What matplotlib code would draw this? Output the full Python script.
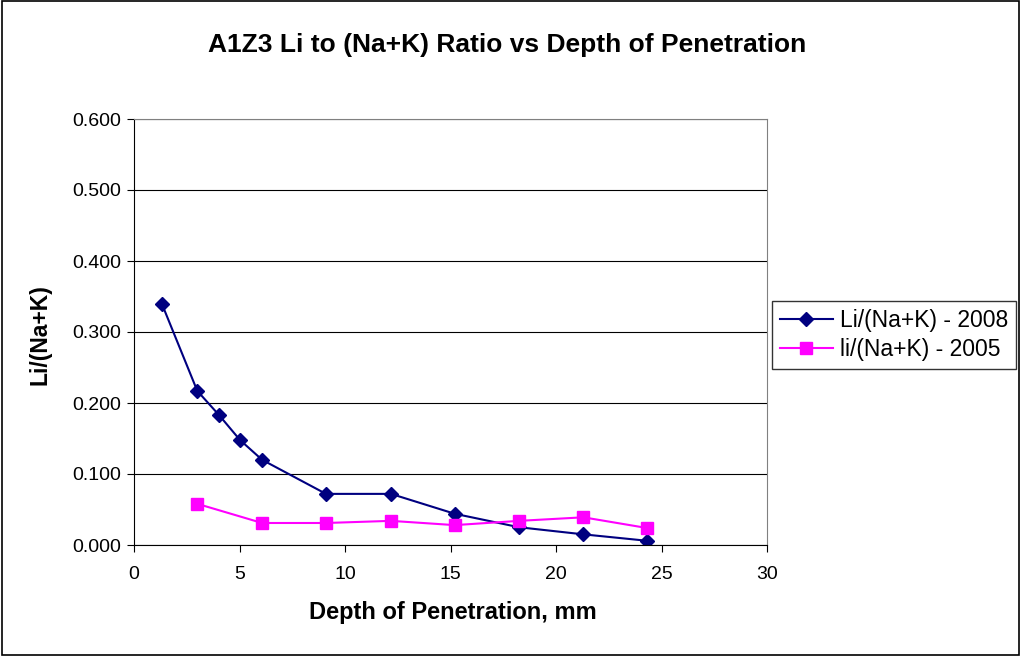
import matplotlib
matplotlib.use("Agg")
import matplotlib.pyplot as plt
from matplotlib.patches import Rectangle

plt.rcParams['font.family'] = ['Liberation Sans', 'DejaVu Sans']

depth_2008 = [1.33, 3.0, 4.03, 5.02, 6.07, 9.1, 12.18, 15.2, 18.25, 21.3, 24.3]
ratio_2008 = [0.339, 0.217, 0.183, 0.148, 0.120, 0.072, 0.072, 0.044, 0.025, 0.015, 0.006]
depth_2005 = [3.0, 6.07, 9.1, 12.18, 15.2, 18.25, 21.3, 24.3]
ratio_2005 = [0.058, 0.031, 0.031, 0.034, 0.028, 0.034, 0.039, 0.024]
y_ticks = [0.0, 0.1, 0.2, 0.3, 0.4, 0.5, 0.6]
x_ticks = [0, 5, 10, 15, 20, 25, 30]

fig = plt.figure(figsize=(10.21, 6.56), dpi=100)
ax = fig.add_axes([134/1021, 1-545/656, (767-134)/1021, (545-119)/656])

l1, = ax.plot(depth_2008, ratio_2008, color='#000080', marker='D', markersize=7,
              linewidth=1.5, label='Li/(Na+K) - 2008')
l2, = ax.plot(depth_2005, ratio_2005, color='#FF00FF', marker='s', markersize=8,
              linewidth=1.5, label='li/(Na+K) - 2005')

ax.set_xlim(0, 30)
ax.set_ylim(0, 0.6)
ax.set_xticks(x_ticks)
ax.set_yticks(y_ticks)
ax.set_yticklabels([f"{v:.3f}" for v in y_ticks])
ax.tick_params(direction='out', length=5, labelsize=14, color='black')
ax.tick_params(axis='y', pad=4)
ax.tick_params(axis='x', pad=10)
ax.yaxis.grid(True, color='black', linewidth=0.8)
ax.set_axisbelow(True)
for s in ['top', 'right']:
    ax.spines[s].set_color('#808080')
for s in ['left', 'bottom']:
    ax.spines[s].set_color('black')

fig.text(453/1021, 1 - 613/656, 'Depth of Penetration, mm', ha='center', va='center',
         fontsize=17, fontweight='bold')
fig.text(40/1021, 1 - 335/656, 'Li/(Na+K)', ha='center', va='center', rotation=90,
         fontsize=16.5, fontweight='bold')
fig.text(507/1021, 1 - 45/656, 'A1Z3 Li to (Na+K) Ratio vs Depth of Penetration',
         ha='center', va='center', fontsize=19, fontweight='bold')

leg = fig.legend(handles=[l1, l2], loc='center left', bbox_to_anchor=(772/1021, 1 - 335/656),
                 fontsize=16.5, frameon=True, fancybox=False, edgecolor='black',
                 handlelength=2.3, handletextpad=0.3, borderpad=0.35, labelspacing=0.3,
                 borderaxespad=0)
leg.get_frame().set_linewidth(1.0)

fig.patches.append(Rectangle((0.002, 0.002), 0.996, 0.996, transform=fig.transFigure,
                             fill=False, edgecolor='black', linewidth=1.2))

fig.savefig('out.png', dpi=100)
